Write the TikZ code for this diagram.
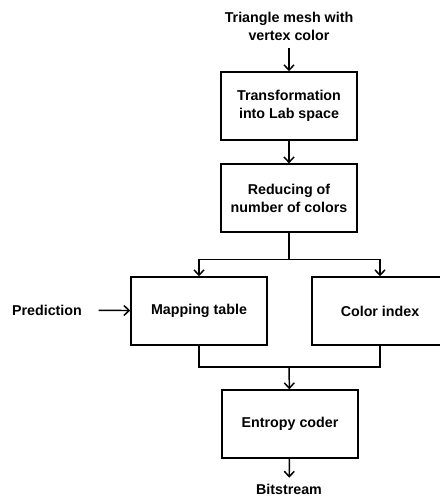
\documentclass[tikz,border=0pt]{standalone}
\usepackage{fontspec}
\setmainfont{Liberation Sans}
\usetikzlibrary{positioning,arrows.meta}

\begin{document}
\begin{tikzpicture}[x=0.75pt, y=0.75pt, line width=1.1pt,
  >={Straight Barb[length=4pt,width=7.5pt]},
  node distance={17pt},
  font=\fontsize{10.7}{13.5}\selectfont\bfseries,
  block/.style = {draw, rectangle, align=center, minimum width=102pt, minimum height=51pt, inner sep=0pt},
  label/.style = {align=center, inner sep=0pt}]

\useasboundingbox (0,0) rectangle (439,498);

\node[label] (mesh) at (289,472) {Triangle mesh with\\vertex color};
\node[block] (lab) at (289,392) {Transformation\\into Lab space};
\node[block] (reduce) [below=of lab] {Reducing of\\number of colors};
\node[block] (map) at (199,187) {Mapping table};
\node[block] (cidx) at (380,187) {Color index};
\node[label] (pred) at (47,188) {Prediction};
\node[block] (entropy) at (290,74) {Entropy coder};
\node[label] (bits) at (289,9) {Bitstream};

\coordinate (split) at ([yshift=-20pt]reduce.south);
\coordinate (merge) at (289,131);

\draw[->, shorten <=5pt] (mesh) -- (lab);
\draw[->] (lab) -- (reduce);
\draw (reduce) -- (split);
\draw[->] (split) -| (map);
\draw[->] (split) -| (cidx);
\draw[->, shorten <=12pt] (pred) -- (map);
\draw (map) |- (merge);
\draw (cidx) |- (merge);
\draw[->] (merge) -- (entropy);
\draw[->, shorten >=4pt] (entropy) -- (bits);

\end{tikzpicture}
\end{document}
